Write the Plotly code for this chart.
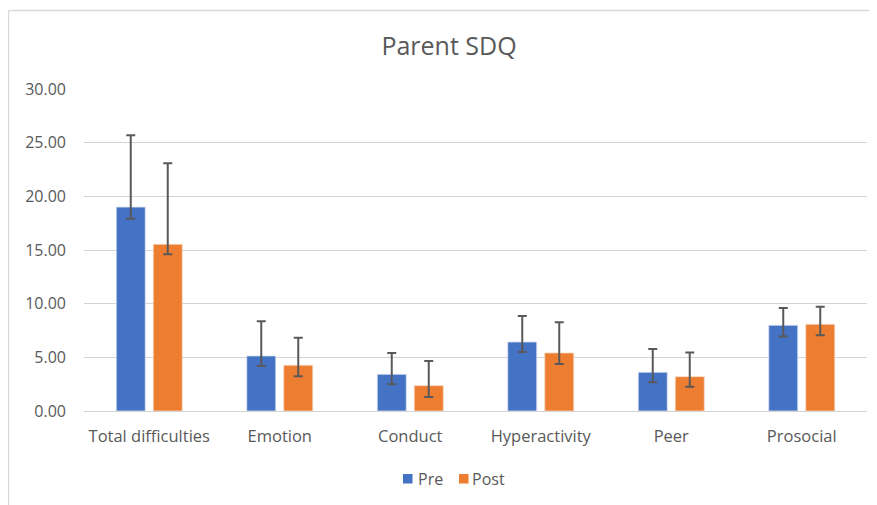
import plotly.graph_objects as go

categories = ["Total difficulties", "Emotion", "Conduct", "Hyperactivity", "Peer", "Prosocial"]
pre_values = [19.0, 5.13, 3.42, 6.43, 3.61, 7.99]
pre_err_plus = [6.7, 3.23, 1.99, 2.42, 2.17, 1.61]
pre_err_minus = [1.08, 0.94, 0.93, 0.93, 0.94, 1.06]
post_values = [15.53, 4.26, 2.36, 5.41, 3.20, 8.08]
post_err_plus = [7.55, 2.57, 2.30, 2.86, 2.24, 1.64]
post_err_minus = [0.93, 1.03, 1.06, 1.03, 0.93, 1.03]
series_names = ["Pre", "Post"]
y_ticks = [0, 5, 10, 15, 20, 25, 30]
y_tick_labels = ["0.00", "5.00", "10.00", "15.00", "20.00", "25.00", "30.00"]

FONT = "Open Sans"
TXT = "#595959"
BLUE, ORANGE = "#4472C4", "#ED7D31"
ERR = dict(type="data", symmetric=False, color="#595959", thickness=2, width=4.5)

fig = go.Figure()
fig.add_trace(go.Bar(
    name=series_names[0], x=categories, y=pre_values,
    marker=dict(color=BLUE, line=dict(color="#dbe3f3", width=0.8)),
    error_y=dict(array=pre_err_plus, arrayminus=pre_err_minus, **ERR),
))
fig.add_trace(go.Bar(
    name=series_names[1], x=categories, y=post_values,
    marker=dict(color=ORANGE, line=dict(color="#f8d9c4", width=0.8)),
    error_y=dict(array=post_err_plus, arrayminus=post_err_minus, **ERR),
))

# page has an 8px body margin; work in page coords then offset
OFF = 8
W, H = 861, 497
plot_left, plot_right, plot_top, plot_bottom = 84 - OFF, 867 - OFF, 89 - OFF, 411 - OFF
L, R, T, B = plot_left, W - plot_right, plot_top, H - plot_bottom
pw, ph = plot_right - plot_left, plot_bottom - plot_top

def px_x(p):
    return (p - OFF - plot_left) / pw

def px_y(p):
    return (plot_bottom - (p - OFF)) / ph

# custom legend (page coords)
legend_items = [(series_names[0], BLUE, 403, 417), (series_names[1], ORANGE, 459, 471)]
shapes = [
    dict(type="line", xref="paper", yref="paper",
         x0=px_x(8.5), x1=px_x(8.5), y0=px_y(10.5), y1=px_y(505),
         line=dict(color="#d9d9d9", width=1.5)),
    dict(type="line", xref="paper", yref="paper",
         x0=px_x(8.5), x1=px_x(877), y0=px_y(10.5), y1=px_y(10.5),
         line=dict(color="#d9d9d9", width=1.5)),
]
annotations = []
for name, col, sx, tx in legend_items:
    shapes.append(dict(type="rect", xref="paper", yref="paper",
                       x0=px_x(sx), x1=px_x(sx + 9.5), y0=px_y(483.5), y1=px_y(474),
                       fillcolor=col, line=dict(width=0)))
    annotations.append(dict(text=name, xref="paper", yref="paper", x=px_x(tx - 1), y=px_y(479),
                            xanchor="left", yanchor="middle", showarrow=False,
                            font=dict(size=16, color=TXT, family=FONT)))

fig.update_layout(
    width=W, height=H,
    margin=dict(l=L, r=R, t=T, b=B, pad=0),
    paper_bgcolor="white", plot_bgcolor="white",
    font=dict(family=FONT, color=TXT, size=16),
    title=dict(text="Parent SDQ", x=px_x(449), xanchor="center", xref="paper",
               y=1 - (46 - OFF) / H, yanchor="middle",
               font=dict(size=25, color=TXT, family=FONT)),
    barmode="group", bargap=0.433, bargroupgap=0.216,
    showlegend=False,
    xaxis=dict(showgrid=False, showline=True, linecolor="#d4d4d4", linewidth=1,
               ticks="", tickfont=dict(size=16.5, color=TXT), ticklabelstandoff=10),
    yaxis=dict(range=[0, 30], tickvals=y_ticks, ticktext=y_tick_labels,
               showgrid=True, gridcolor="#d4d4d4", gridwidth=1, zeroline=False,
               showline=False, ticks="", tickfont=dict(size=16, color=TXT),
               ticklabelstandoff=17),
    shapes=shapes,
    annotations=annotations,
)

fig.write_html("out.html")
